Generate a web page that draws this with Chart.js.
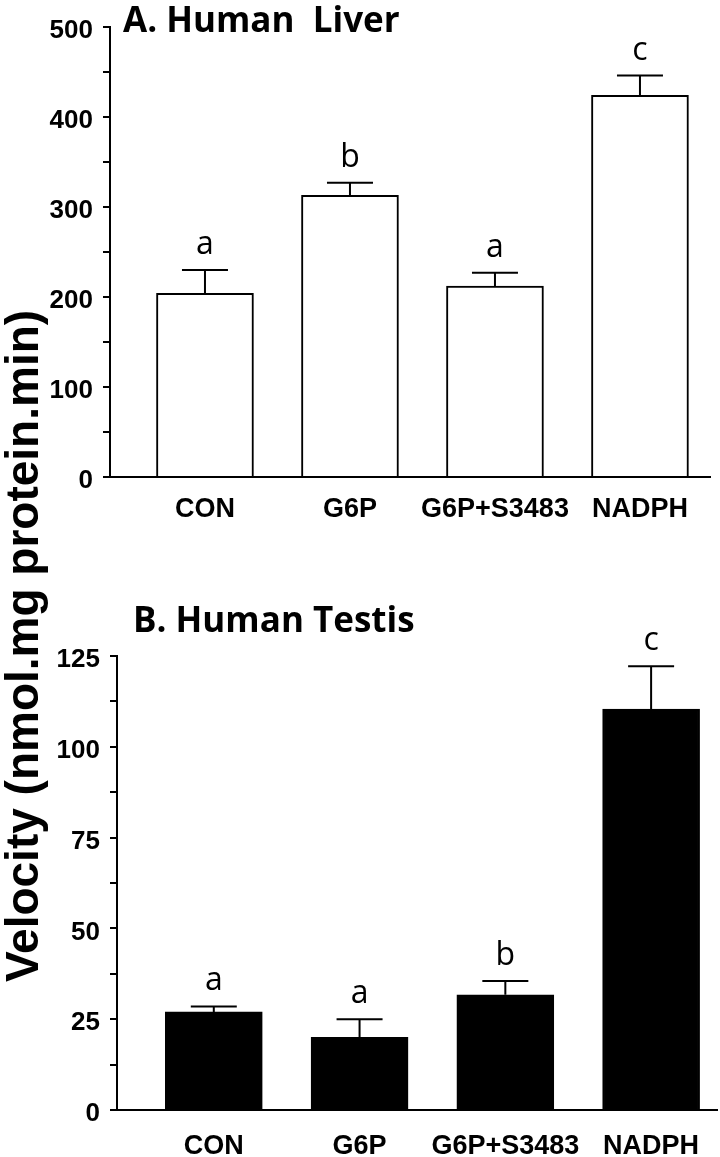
<!DOCTYPE html>
<html>
<head>
<meta charset="utf-8">
<script src="https://cdn.jsdelivr.net/npm/chart.js"></script>
<style>
  body { margin: 0; background: #fff; overflow: hidden; }
  #panelA { position: absolute; left: 0; top: 0; width: 720px; height: 560px; }
  #panelB { position: absolute; left: 0; top: 560px; width: 720px; height: 597px; }
  #ytitle {
    position: absolute; left: -380px; top: 621px; width: 800px; height: 50px;
    line-height: 50px; text-align: center; transform: rotate(-90deg);
    font: bold 46px "Liberation Sans", Arial, sans-serif; color: #000; white-space: nowrap;
  }
</style>
</head>
<body>
<div id="panelA"><canvas id="liver"></canvas></div>
<div id="panelB"><canvas id="testis"></canvas></div>
<div id="ytitle">Velocity (nmol.mg protein.min)</div>
<script>
const categories = ['CON', 'G6P', 'G6P+S3483', 'NADPH'];

// A. Human Liver
const liverMeans = [204, 313, 212, 424];
const liverErrors = [26, 14, 15, 22];
const liverLetters = ['a', 'b', 'a', 'c'];

// B. Human Testis
const testisMeans = [27, 20, 31.7, 110.4];
const testisErrors = [1.5, 5, 3.8, 11.8];
const testisLetters = ['a', 'a', 'b', 'c'];

// error bars, letters and panel title
const annotate = {
  id: 'annotate',
  afterDatasetsDraw(chart, args, opts) {
    const ctx = chart.ctx;
    const x = chart.scales.x, y = chart.scales.y;
    ctx.save();
    ctx.strokeStyle = '#000';
    ctx.fillStyle = '#000';
    ctx.lineWidth = 2;
    opts.means.forEach((m, i) => {
      const px = x.getPixelForValue(i + 1);
      const base = y.getPixelForValue(m);
      const top = y.getPixelForValue(m + opts.errors[i]);
      ctx.beginPath();
      ctx.moveTo(px, base);
      ctx.lineTo(px, top);
      ctx.moveTo(px - 23, top);
      ctx.lineTo(px + 23, top);
      ctx.stroke();
      ctx.font = '32px "Open Sans"';
      ctx.textAlign = 'center';
      ctx.textBaseline = 'alphabetic';
      ctx.fillText(opts.letters[i], px, top - 16);
    });
    ctx.font = 'bold 35px "Open Sans"';
    ctx.textAlign = 'left';
    ctx.fillText(opts.title, opts.titleX, opts.titleY);
    ctx.restore();
  }
};

function makePanel(id, means, errors, letters, cfg) {
  const ctx = document.getElementById(id).getContext('2d');
  return new Chart(ctx, {
    type: 'bar',
    data: {
      datasets: [{
        data: means.map((m, i) => ({ x: i + 1, y: m })),
        backgroundColor: cfg.fill,
        borderColor: '#000',
        borderWidth: 2,
        barThickness: 97
      }]
    },
    options: {
      responsive: true,
      maintainAspectRatio: false,
      animation: false,
      layout: { padding: { left: 0, top: cfg.top, right: cfg.right, bottom: 0 } },
      scales: {
        x: {
          type: 'linear',
          offset: false,
          min: cfg.xmin,
          max: cfg.xmax,
          afterBuildTicks: (scale) => { scale.ticks = categories.map((c, i) => ({ value: i + 1 })); },
          afterFit: (scale) => { scale.height = cfg.xHeight; },
          grid: { display: false, drawTicks: false, offset: false },
          border: { display: true, color: '#000', width: 2 },
          ticks: {
            padding: cfg.xPad,
            maxRotation: 0,
            autoSkip: false,
            color: '#000',
            font: { family: 'Liberation Sans', weight: 'bold', size: 27 },
            callback: (v) => categories[v - 1]
          }
        },
        y: {
          min: 0,
          max: cfg.ymax,
          afterFit: (scale) => { scale.width = cfg.yWidth; },
          grid: { drawOnChartArea: false, drawTicks: true, tickLength: 7, color: '#000', lineWidth: 2 },
          border: { display: true, color: '#000', width: 2 },
          ticks: {
            stepSize: cfg.step / 2,
            padding: 10,
            labelOffset: 4,
            color: '#000',
            font: { family: 'Liberation Sans', weight: 'bold', size: 26 },
            callback: (v) => (v % cfg.step === 0 ? v : '')
          }
        }
      },
      plugins: {
        legend: { display: false },
        tooltip: { enabled: false },
        annotate: {
          means: means, errors: errors, letters: letters,
          title: cfg.title, titleX: cfg.titleX, titleY: cfg.titleY
        }
      }
    },
    plugins: [annotate]
  });
}

makePanel('liver', liverMeans, liverErrors, liverLetters, {
  fill: '#fff', top: 27, right: 10, xmin: 0.345, xmax: 4.483, xHeight: 83, xPad: 16,
  yWidth: 110, ymax: 500, step: 100,
  title: 'A. Human  Liver', titleX: 123, titleY: 32
});

makePanel('testis', testisMeans, testisErrors, testisLetters, {
  fill: '#000', top: 96, right: 3, xmin: 0.336, xmax: 4.452, xHeight: 47, xPad: 20,
  yWidth: 117, ymax: 125, step: 25,
  title: 'B. Human Testis', titleX: 133, titleY: 72
});
</script>
</body>
</html>
